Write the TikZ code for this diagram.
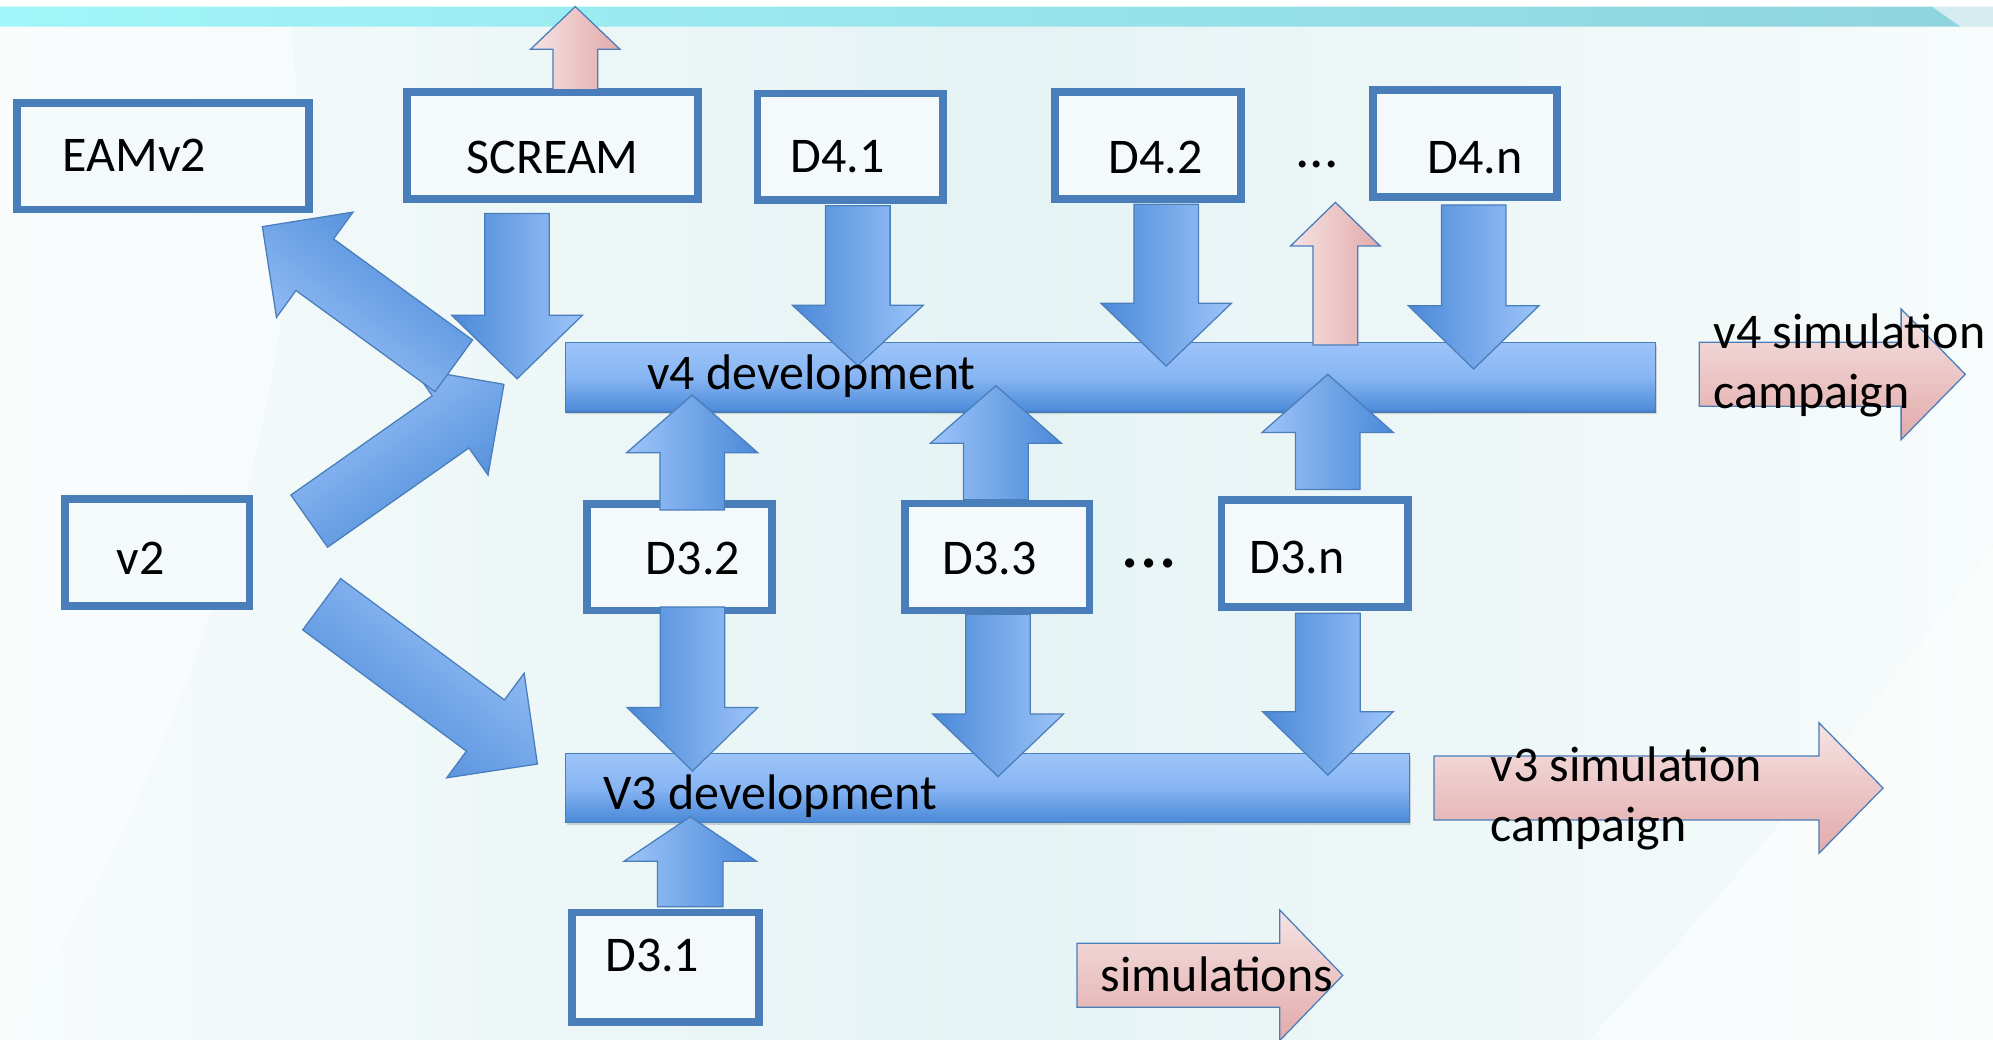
\documentclass[tikz,border=0pt]{standalone}
\usepackage{fontspec}
\setmainfont{Carlito}
\usetikzlibrary{calc,positioning,shadows}

\definecolor{boxblue}{RGB}{74,126,187}
\definecolor{boxfill}{RGB}{244,250,251}
\definecolor{arrlight}{RGB}{157,196,249}
\definecolor{arrmid}{RGB}{135,181,243}
\definecolor{arrdark}{RGB}{74,137,216}
\definecolor{pinklight}{RGB}{246,227,227}
\definecolor{pinkdark}{RGB}{226,170,170}
\definecolor{bandlight}{RGB}{160,246,248}
\definecolor{banddark}{RGB}{142,212,222}
\definecolor{bandpale}{RGB}{213,237,241}
\definecolor{bgcyan}{RGB}{229,243,244}
\definecolor{bgpale}{RGB}{247,251,251}

\tikzset{
  softshadow/.style={drop shadow={shadow xshift=1.2pt, shadow yshift=-2pt, opacity=0.25, fill=black!60}},
  dbox/.style={draw=boxblue, line width=6pt, fill=boxfill, minimum width=146pt, minimum height=84pt, inner sep=0pt, softshadow},
  devbar/.style={draw=boxblue, line width=1pt, top color=arrlight, bottom color=arrdark, middle color=arrmid, inner sep=0pt, softshadow},
  bluearr/.style={draw=boxblue, line width=1pt, top color=arrlight, bottom color=arrdark, shading angle=#1},
  pinkarr/.style={draw=boxblue, line width=1pt, top color=pinklight, bottom color=pinkdark, shading angle=#1},
  lbl/.style={font=\fontsize{39.3}{47}\selectfont, inner sep=0pt, anchor=base west},
}

% block arrow: [style] {tail} {tip} {shaft half width} {head half width} {head length}
\newcommand{\blockarrow}[6][]{%
  \coordinate (ba-a) at (#2);
  \coordinate (ba-b) at (#3);
  \coordinate (ba-h) at ($(ba-b)!#6!(ba-a)$);
  \path[#1] ($(ba-a)!#4!90:(ba-b)$) -- ($(ba-h)!#4!90:(ba-b)$)
    -- ($(ba-h)!#5!90:(ba-b)$) -- (ba-b)
    -- ($(ba-h)!#5!-90:(ba-b)$) -- ($(ba-h)!#4!-90:(ba-b)$)
    -- ($(ba-a)!#4!-90:(ba-b)$) -- cycle;
}

\begin{document}
\begin{tikzpicture}[x=1pt,y=1pt,yscale=-1]
	\useasboundingbox (0,0) rectangle (1568,818);
	% background
	\shade[left color=bgpale, right color=bgcyan] (0,0) rectangle (784,818);
	\shade[left color=bgcyan, right color=bgpale] (784,0) rectangle (1568,818);
	\fill[white, opacity=0.55] (1250,818) .. controls (1400,660) and (1500,520) .. (1568,430) -- (1568,818) -- cycle;
	\fill[white, opacity=0.4] (0,818) .. controls (150,600) and (250,300) .. (230,21) -- (0,21) -- cycle;
	\fill[white] (0,0) rectangle (1568,5.2);
	\shade[left color=bandlight, right color=banddark] (0,5.2) -- (1520,5.2) -- (1543,21) -- (0,21) -- cycle;
	\fill[bandpale] (1520,5.2) -- (1568,5.2) -- (1568,21) -- (1543,21) -- cycle;

	% boxes
	\node[dbox, minimum width=229.4pt] (eam) at (128.2,122.9) {};
	\node[dbox, minimum width=228.7pt] (scream) at (434.7,114.4) {};
	\node[dbox] (d41) at (669,115.5) {};
	\node[dbox, minimum width=146.5pt] (d42) at (903.3,114.4) {};
	\node[dbox, minimum width=144.6pt] (d4n) at (1152.7,112.8) {};
	\node[dbox, minimum width=145.3pt] (v2) at (123.7,434.8) {};
	\node[dbox, minimum width=145.5pt] (d32) at (534.8,438.3) {};
	\node[dbox, minimum width=145.1pt] (d33) at (784.5,438.2) {};
	\node[dbox, minimum width=146.7pt] (d3n) at (1034.4,435.4) {};
	\node[dbox, minimum width=147pt, minimum height=86pt] (d31) at (523.5,761) {};

	% development bars
	\node[devbar, minimum width=857.2pt, minimum height=54.5pt] (v4bar) at (873.6,296.8) {};
	\node[devbar, minimum width=663.9pt, minimum height=54.1pt] (v3bar) at (777,619.8) {};

	% arrow tips and free ends
	\coordinate (tscr) at (406.8,298);
	\coordinate (t41) at (674.9,287.7);
	\coordinate (t42) at (917.5,288);
	\coordinate (t4n) at (1159.4,290.3);
	\coordinate (t32d) at (544.8,606.6);
	\coordinate (t33d) at (785.2,611);
	\coordinate (t3nd) at (1044.7,609.8);
	\coordinate (t32u) at (544.6,310.8);
	\coordinate (t33u) at (783.5,303.4);
	\coordinate (t3nu) at (1044.6,294.5);
	\coordinate (t31u) at (543.1,642.5);
	\coordinate (tscrup) at (452.6,5.2);
	\coordinate (tmidup) at (1050.6,159.2);
	\coordinate (tv4sim) at (1546.2,294.5);
	\coordinate (tv3sim) at (1481.5,620);
	\coordinate (tsims) at (1056.4,767.3);
	\coordinate (ssims) at (847.4,767.3);
	\coordinate (team) at (206.4,178.3);
	\coordinate (seam) at (357,287.8);
	\coordinate (tv2up) at (396.5,302.4);
	\coordinate (sv2up) at (243.3,410);
	\coordinate (tv2dn) at (422.8,601.1);
	\coordinate (sv2dn) at (253.1,475.4);

	% arrows into v4 development
	\blockarrow[bluearr=270]{$(scream.south -| tscr)+(0,8.5)$}{tscr}{25.4pt}{51.4pt}{50pt}
	\blockarrow[bluearr=270]{$(d41.south -| t41)+(0,1.3)$}{t41}{25.4pt}{51.4pt}{47.5pt}
	\blockarrow[bluearr=270]{$(d42.south -| t42)+(0,1.3)$}{t42}{25.4pt}{51.4pt}{49.5pt}
	\blockarrow[bluearr=270]{$(d4n.south -| t4n)+(0,3.4)$}{t4n}{25.4pt}{51.4pt}{49.8pt}
	\blockarrow[bluearr=90]{$(d32.north -| t32u)+(0,7.9)$}{t32u}{25.4pt}{51.6pt}{45.4pt}
	\blockarrow[bluearr=90]{d33.north -| t33u}{t33u}{25.4pt}{51.6pt}{45.4pt}
	\blockarrow[bluearr=90]{$(d3n.north -| t3nu)+(0,-5.3)$}{t3nu}{25.4pt}{51.6pt}{45.7pt}
	% arrows into V3 development
	\blockarrow[bluearr=270]{$(d32.south -| t32d)+(0,-5.8)$}{t32d}{25.4pt}{51.4pt}{50pt}
	\blockarrow[bluearr=270]{d33.south -| t33d}{t33d}{25.4pt}{51.4pt}{49.2pt}
	\blockarrow[bluearr=270]{$(d3n.south -| t3nd)+(0,2)$}{t3nd}{25.4pt}{51.4pt}{49.9pt}
	\blockarrow[bluearr=90]{$(d31.north -| t31u)+(0,-1.6)$}{t31u}{25.8pt}{52pt}{35pt}
	% diagonal arrows
	\blockarrow[bluearr=35]{sv2up}{tv2up}{25.1pt}{51.2pt}{51.3pt}
	\blockarrow[bluearr=323]{sv2dn}{tv2dn}{25.1pt}{51.2pt}{50.9pt}
	\blockarrow[bluearr=144]{seam}{team}{25.1pt}{51.2pt}{51pt}
	% simulation arrows
	\blockarrow[pinkarr=90]{$(scream.north -| tscrup)+(0,1.3)$}{tscrup}{17.6pt}{35.2pt}{33.6pt}
	\blockarrow[pinkarr=90]{$(v4bar.north -| tmidup)+(0,2.4)$}{tmidup}{17.6pt}{35.2pt}{34.3pt}
	\blockarrow[pinkarr=0]{$(v4bar.east |- tv4sim)+(34.1,0)$}{tv4sim}{25.2pt}{51.4pt}{50.5pt}
	\blockarrow[pinkarr=0]{$(v3bar.east |- tv3sim)+(18.8,0)$}{tv3sim}{25.2pt}{51.4pt}{50.5pt}
	\blockarrow[pinkarr=0]{ssims}{tsims}{25.2pt}{51.4pt}{49.6pt}

	% Text
	\node[lbl] (teamv2) at (49,135.1) {EAMv2};
	\node[lbl] (tscream) at (366.8,136.4) {SCREAM};
	\node[lbl] (td41) at (622,135.5) {D4.1};
	\node[lbl] (td42) at (872,136.4) {D4.2};
	\node[lbl] (td4n) at (1123,136.4) {D4.n};
	\node[lbl, font=\fontsize{45}{54}\selectfont] (tdots4) at (1019,131.5) {...};
	\node[lbl] (tv2) at (91.5,452) {v2};
	\node[lbl] (td32) at (508,451.6) {D3.2};
	\node[lbl] (td33) at (741.3,451.6) {D3.3};
	\node[lbl] (td3n) at (983,451) {D3.n};
	\node[lbl, font=\fontsize{60}{72}\selectfont] (tdots3) at (881,446.2) {...};
	\node[lbl] (td31) at (476,764) {D3.1};
	\node[lbl] (tv4dev) at (509,306.8) {v4 development};
	\node[lbl] (tv3dev) at (474.4,636.8) {V3 development};
	\node[lbl, align=left] (tv4sim) at (1348,321.3) {v4 simulation\\campaign};
	\node[lbl, align=left] (tv3sim) at (1172.4,661.7) {v3 simulation\\campaign};
	\node[lbl] (tsims) at (866,780.3) {simulations};
\end{tikzpicture}
\end{document}
